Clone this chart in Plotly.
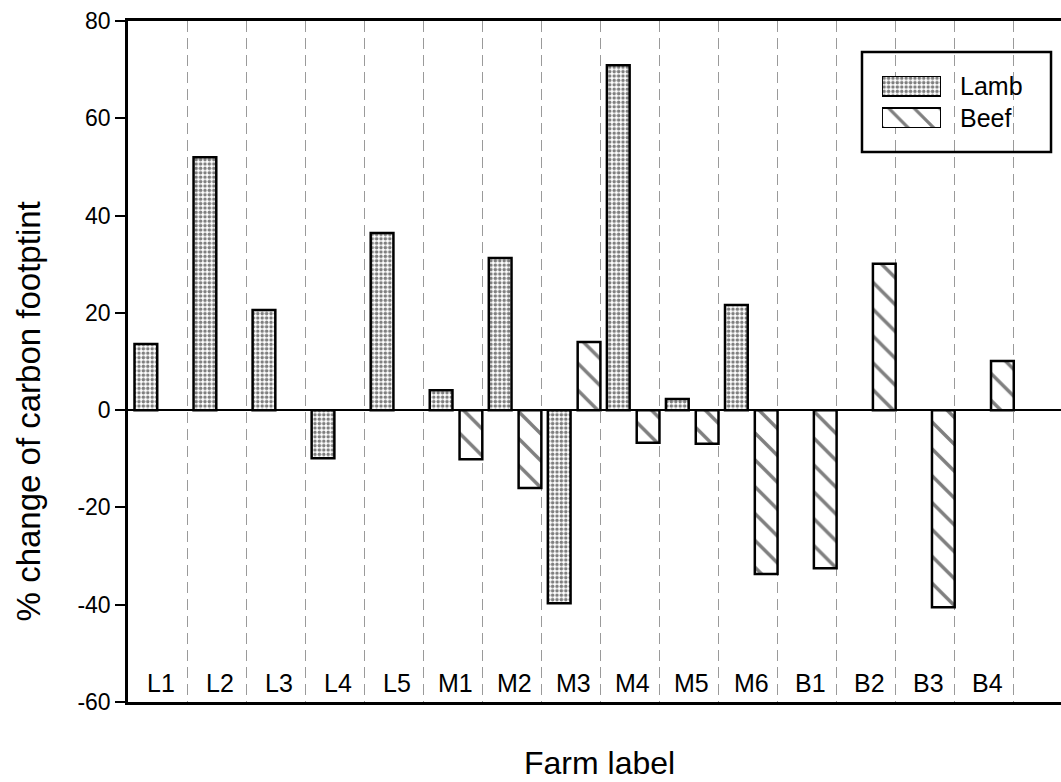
import plotly.graph_objects as go

farms = ["L1", "L2", "L3", "L4", "L5", "M1", "M2", "M3", "M4", "M5", "M6", "B1", "B2", "B3", "B4"]
lamb = [13.6, 52.0, 20.6, -9.9, 36.4, 4.1, 31.3, -39.7, 70.9, 2.3, 21.6, None, None, None, None]
beef = [None, None, None, None, None, -10.1, -16.0, 14.0, -6.7, -6.9, -33.7, -32.5, 30.1, -40.5, 10.1]
series_names = ["Lamb", "Beef"]
y_ticks = [-60, -40, -20, 0, 20, 40, 60, 80]
y_min, y_max = -60, 80

FONT = "Liberation Sans, Arial, Helvetica, sans-serif"
idx = list(range(len(farms)))

dots = dict(shape=".", fgcolor="black", bgcolor="white", size=4.4, solidity=0.5)
hatch = dict(shape="\\", fgcolor="black", bgcolor="white", size=19, solidity=0.18)
line = dict(color="black", width=2.5)

fig = go.Figure()
fig.add_trace(go.Bar(x=idx, y=lamb, name=series_names[0], offset=-0.39, width=0.385,
                     marker=dict(color="white", line=line, pattern=dots), showlegend=False))
fig.add_trace(go.Bar(x=idx, y=beef, name=series_names[1], offset=0.115, width=0.385,
                     marker=dict(color="white", line=line, pattern=hatch), showlegend=False))

# legend swatches drawn on a small inset axis
fig.add_trace(go.Bar(x=[1], y=[1], orientation="h", width=0.625, xaxis="x2", yaxis="y2",
                     marker=dict(color="white", line=dict(color="black", width=2), pattern=dots),
                     showlegend=False, hoverinfo="skip"))
fig.add_trace(go.Bar(x=[1], y=[0], orientation="h", width=0.625, xaxis="x2", yaxis="y2",
                     marker=dict(color="white", line=dict(color="black", width=2),
                                 pattern=dict(shape="\\", fgcolor="black", bgcolor="white", size=18, solidity=0.18)),
                     showlegend=False, hoverinfo="skip"))

annotations = []
for i, f in enumerate(farms):
    annotations.append(dict(x=i, y=y_min, xref="x", yref="y", text=f, showarrow=False,
                            yanchor="bottom", xshift=3, yshift=3,
                            font=dict(family=FONT, size=25, color="black")))
annotations.append(dict(x=0.505, y=-0.09, xref="paper", yref="paper", text="Farm label",
                        showarrow=False, xanchor="center", yanchor="middle",
                        font=dict(family=FONT, size=32, color="black")))
annotations.append(dict(x=-0.107, y=0.427, xref="paper", yref="paper",
                        text="% change of carbon footptint", textangle=-90,
                        showarrow=False, xanchor="center", yanchor="middle",
                        font=dict(family=FONT, size=33, color="black")))
annotations.append(dict(x=0.8896, y=0.9046, xref="paper", yref="paper", text=series_names[0],
                        showarrow=False, xanchor="left", yanchor="middle",
                        font=dict(family=FONT, size=25, color="black")))
annotations.append(dict(x=0.8896, y=0.8576, xref="paper", yref="paper", text=series_names[1],
                        showarrow=False, xanchor="left", yanchor="middle",
                        font=dict(family=FONT, size=25, color="black")))

fig.update_layout(
    width=1061, height=782,
    margin=dict(l=128, r=0, t=21, b=80),
    paper_bgcolor="white", plot_bgcolor="white",
    barmode="overlay",
    font=dict(family=FONT, size=23, color="black"),
    xaxis=dict(range=[-0.5, 15.3], tickmode="array", tickvals=[i + 0.5 for i in idx],
               showticklabels=False, ticks="", showgrid=True, gridcolor="#9a9a9a",
               gridwidth=1, griddash="11px,6px", zeroline=False,
               showline=True, linecolor="black", linewidth=2.5, mirror=True),
    yaxis=dict(range=[y_min, y_max], tickmode="array", tickvals=y_ticks,
               ticktext=[str(v) for v in y_ticks],
               ticks="outside", ticklen=10, tickwidth=2, tickcolor="black",
               tickfont=dict(family=FONT, size=23, color="black"),
               showgrid=False, zeroline=True, zerolinecolor="black", zerolinewidth=2,
               showline=True, linecolor="black", linewidth=2.5),
    xaxis2=dict(domain=[0.8081, 0.8714], range=[0, 1], visible=False, anchor="y2", fixedrange=True),
    yaxis2=dict(domain=[0.8429, 0.9192], range=[-0.3125, 1.3125], visible=False, anchor="x2", fixedrange=True),
    shapes=[dict(type="rect", xref="paper", yref="paper", x0=0.7867, x1=0.9893, y0=0.8076, y1=0.9545,
                 line=dict(color="black", width=2.5), fillcolor="rgba(0,0,0,0)")],
    annotations=annotations,
)

fig.write_html("out.html", config={"displayModeBar": False},
               post_script="document.body.style.margin='0';document.body.style.padding='0';")
